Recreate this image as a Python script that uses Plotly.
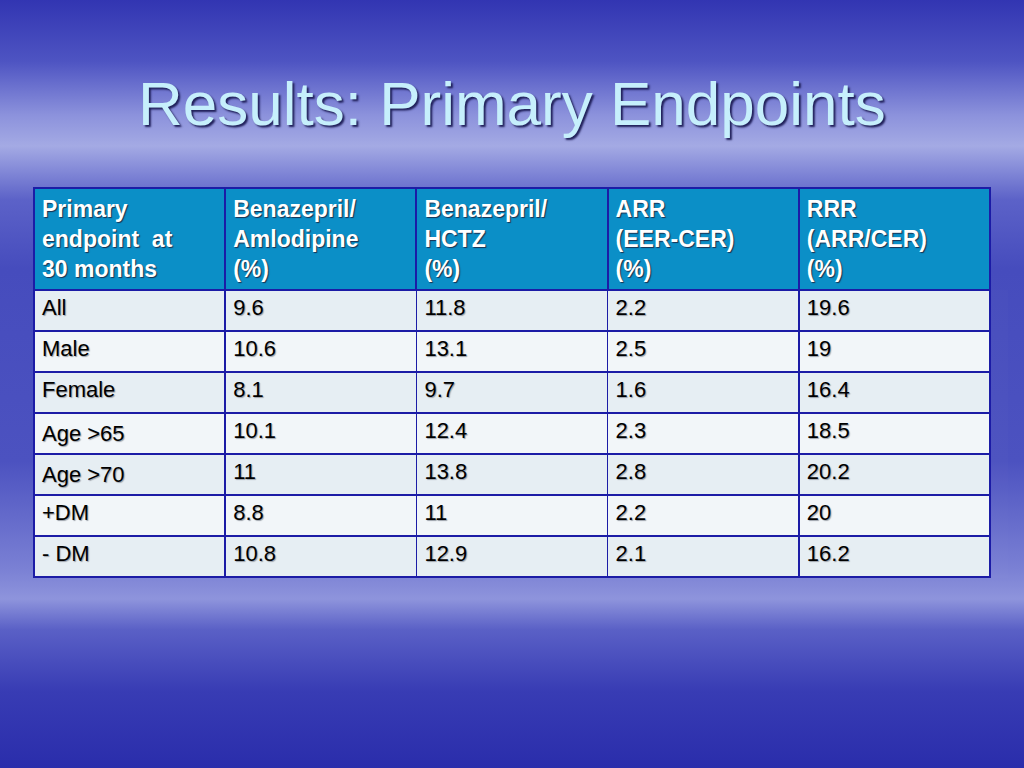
import plotly.graph_objects as go

# table contents
headers = ["Primary<br>endpoint  at<br>30 months", "Benazepril/<br>Amlodipine<br>(%)",
           "Benazepril/<br>HCTZ<br>(%)", "ARR<br>(EER-CER)<br>(%)", "RRR<br>(ARR/CER)<br>(%)"]
subgroups = ["All", "Male", "Female", "Age &gt;65", "Age &gt;70", "+DM", "- DM"]
ben_aml = ["9.6", "10.6", "8.1", "10.1", "11", "8.8", "10.8"]
ben_hctz = ["11.8", "13.1", "9.7", "12.4", "13.8", "11", "12.9"]
arr = ["2.2", "2.5", "1.6", "2.3", "2.8", "2.2", "2.1"]
rrr = ["19.6", "19", "16.4", "18.5", "20.2", "20", "16.2"]

row_colors = ["#e6eef3" if i % 2 == 0 else "#f2f6f9" for i in range(len(subgroups))]

fig = go.Figure()

# slide background: vertical blue gradient with light bands
bg_stops = [(0.0, "#2a2dab"), (0.10, "#383cb4"), (0.18, "#5a60c6"), (0.22, "#8e94dc"),
            (0.26, "#7a80d4"), (0.40, "#4c52c0"), (0.65, "#464cbd"), (0.74, "#5c62c8"),
            (0.81, "#a4aae4"), (0.85, "#8c92dc"), (0.92, "#4e54c2"), (1.0, "#3235b2")]
fig.add_trace(go.Scatter(
    x=[0, 1, 1, 0, 0], y=[0, 0, 1, 1, 0], mode="lines", fill="toself",
    line=dict(width=0), hoverinfo="skip", showlegend=False,
    fillgradient=dict(type="vertical", colorscale=bg_stops, start=0, stop=1),
))

fig.add_trace(go.Table(
    domain=dict(x=[34 / 1024, 990 / 1024], y=[1 - 578 / 768, 1 - 188 / 768]),
    columnwidth=[1, 1, 1, 1, 1],
    header=dict(
        values=headers,
        fill_color="#0b8fc7",
        line=dict(color="#1c1ca6", width=2),
        align="left",
        height=102,
        font=dict(family="Liberation Sans, Arial", size=23, color="white", weight="bold",
                  shadow="1px 1px 1px #1a3050"),
    ),
    cells=dict(
        values=[subgroups, ben_aml, ben_hctz, arr, rrr],
        fill_color=[row_colors] * 5,
        line=dict(color="#1c1ca6", width=1.5),
        align="left",
        height=41,
        font=dict(family="Liberation Sans, Arial", size=22, color="black",
                  shadow="1px 1px 1px #9aa0a8"),
    ),
))

fig.add_annotation(
    text="Results: Primary Endpoints", x=0.5, y=1 - 103 / 768, xref="paper", yref="paper",
    showarrow=False, xanchor="center", yanchor="middle",
    font=dict(family="Liberation Sans, Arial", size=62, color="#c6effc",
              shadow="2px 2px 2px #20205a"),
)

fig.update_layout(
    width=1024, height=768,
    margin=dict(l=0, r=0, t=0, b=0),
    paper_bgcolor="#3a3eb6", plot_bgcolor="rgba(0,0,0,0)",
    xaxis=dict(range=[0, 1], visible=False, fixedrange=True),
    yaxis=dict(range=[0, 1], visible=False, fixedrange=True),
    showlegend=False,
)

fig.write_html("out.html", config={"displayModeBar": False},
               post_script="document.body.style.margin='0';")
